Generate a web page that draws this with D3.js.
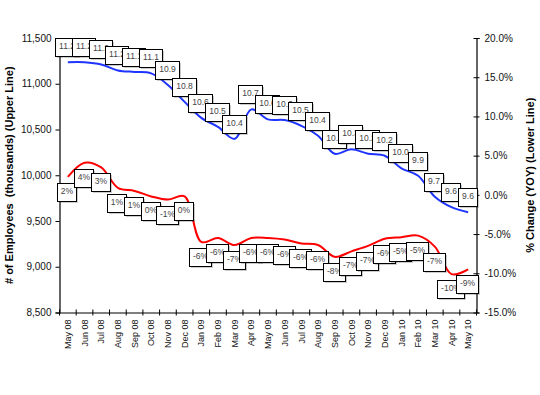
<!DOCTYPE html>
<html>
<head>
<meta charset="utf-8">
<script src="https://cdn.jsdelivr.net/npm/d3@7"></script>
<style>
    body { margin: 0; background: #fff; }
    text { font-family: Arial, "Liberation Sans", sans-serif; }
</style>
</head>
<body>
<svg id="canvas"></svg>
<script>
const months = ["May 08", "Jun 08", "Jul 08", "Aug 08", "Sep 08", "Oct 08", "Nov 08", "Dec 08",
    "Jan 09", "Feb 09", "Mar 09", "Apr 09", "May 09", "Jun 09", "Jul 09", "Aug 09", "Sep 09",
    "Oct 09", "Nov 09", "Dec 09", "Jan 10", "Feb 10", "Mar 10", "Apr 10", "May 10"];

// employees, thousands (upper line)
const employees = [11235, 11235, 11211, 11145, 11129, 11113, 10987, 10802, 10627, 10529, 10398, 10720,
    10611, 10603, 10540, 10431, 10235, 10284, 10235, 10213, 10076, 9994, 9765, 9651, 9596];
const employeeLabels = ["11.2", "11.2", "11.2", "11.2", "11.1", "11.1", "10.9", "10.8", "10.6", "10.5",
    "10.4", "10.7", "10.6", "10.6", "10.5", "10.4", "10.3", "10.3", "10.2", "10.2", "10.0", "9.9", "9.7", "9.6", "9.6"];

// year over year change, % (lower line)
const yoy = [2.3, 4.1, 3.5, 0.9, 0.5, -0.2, -0.6, -0.2, -6.0, -5.5, -6.4, -5.5, -5.5, -5.7, -6.2, -6.4,
    -7.9, -7.2, -6.5, -5.6, -5.4, -5.2, -6.6, -10.1, -9.5];
const yoyLabels = ["2%", "4%", "3%", "1%", "1%", "0%", "-1%", "0%", "-6%", "-6%", "-7%", "-6%", "-6%",
    "-6%", "-6%", "-6%", "-8%", "-7%", "-7%", "-6%", "-5%", "-5%", "-7%", "-10%", "-9%"];

const leftTicks = d3.range(8500, 11501, 500);
const rightTicks = d3.range(-15, 21, 5);

const width = 540;
const height = 395;
const plot = { left: 59.5, right: 476.5, top: 38, bottom: 312.5 };

const svg = d3.select("#canvas")
    .attr("width", width)
    .attr("height", height);

const x = d3.scaleBand()
    .domain(months)
    .range([plot.left, plot.right]);
const cx = m => x(m) + x.bandwidth() / 2;

const yLeft = d3.scaleLinear().domain([8500, 11500]).range([plot.bottom, plot.top]);
const yRight = d3.scaleLinear().domain([-15, 20]).range([plot.bottom, plot.top]);

const pctFormat = v => (v < 0 ? "-" : "") + Math.abs(v).toFixed(1) + "%";

// axes
const leftAxis = svg.append("g")
    .attr("transform", `translate(${plot.left},0)`)
    .call(d3.axisLeft(yLeft).tickValues(leftTicks).tickFormat(d3.format(",")).tickSize(4).tickPadding(4));

const rightAxis = svg.append("g")
    .attr("transform", `translate(${plot.right},0)`)
    .call(d3.axisRight(yRight).tickValues(rightTicks).tickFormat(pctFormat).tickSize(3).tickPadding(5));
rightAxis.selectAll(".tick line").attr("x1", -3);

const bottomAxis = svg.append("g")
    .attr("transform", `translate(0,${plot.bottom})`)
    .call(d3.axisBottom(x).tickSize(0).tickPadding(0));

bottomAxis.selectAll(".tick text")
    .attr("transform", "rotate(-90)")
    .attr("text-anchor", "end")
    .attr("x", -7)
    .attr("y", 0)
    .attr("dy", "0.35em")
    .style("font-size", "9px");

// tick marks between the categories
bottomAxis.selectAll(".cat-tick")
    .data(months.map(m => x(m)).concat([x.range()[1]]))
    .enter()
    .append("line")
    .attr("class", "cat-tick")
    .attr("x1", d => d)
    .attr("x2", d => d)
    .attr("y1", -3)
    .attr("y2", 3)
    .attr("stroke", "#000");

[leftAxis, rightAxis, bottomAxis].forEach(a => {
    a.select(".domain").attr("stroke", "#000").attr("stroke-width", 1.2);
    a.selectAll(".tick line").attr("stroke", "#000");
    a.selectAll(".tick text").attr("fill", "#111");
});
leftAxis.selectAll(".tick text").style("font-size", "10px");
rightAxis.selectAll(".tick text").style("font-size", "10px");

// axis titles
svg.append("text")
    .attr("transform", `translate(9,${(plot.top + plot.bottom) / 2}) rotate(-90)`)
    .attr("text-anchor", "middle")
    .attr("dy", "0.35em")
    .style("font-size", "11px")
    .style("font-weight", "bold")
    .style("white-space", "pre")
    .text("# of Employees  (thousands) (Upper Line)");

svg.append("text")
    .attr("transform", `translate(530,${(plot.top + plot.bottom) / 2}) rotate(-90)`)
    .attr("text-anchor", "middle")
    .attr("dy", "0.35em")
    .style("font-size", "11px")
    .style("font-weight", "bold")
    .text("% Change (YOY) (Lower Line)");

// lines
const curve = d3.curveCatmullRom.alpha(0.5);

svg.append("path")
    .datum(employees)
    .attr("fill", "none")
    .attr("stroke", "#1f35ff")
    .attr("stroke-width", 2)
    .attr("d", d3.line().x((d, i) => cx(months[i])).y(d => yLeft(d)).curve(curve));

svg.append("path")
    .datum(yoy)
    .attr("fill", "none")
    .attr("stroke", "#ff0000")
    .attr("stroke-width", 2)
    .attr("d", d3.line().x((d, i) => cx(months[i])).y(d => yRight(d)).curve(curve));

// data labels, boxed with a little shadow
const drawLabels = (values, labels, scale, above) => {
    values.forEach((v, i) => {
        const px = cx(months[i]) - 1;
        const py = scale(v);
        const g = svg.append("g");
        const shadow = g.append("rect").attr("fill", "#000").attr("opacity", 0.2);
        const box = g.append("rect").attr("fill", "#fff").attr("stroke", "#000").attr("stroke-width", 1);
        const t = g.append("text")
            .attr("text-anchor", "middle")
            .style("font-size", "8.5px")
            .attr("fill", "#444")
            .text(labels[i]);
        const w = Math.round(t.node().getComputedTextLength() + 7);
        const h = 18;
        const top = above ? Math.round(py - 6 - h) : Math.round(py + 6);
        const left = Math.round(px - w / 2);
        box.attr("x", left + 0.5).attr("y", top + 0.5).attr("width", w).attr("height", h);
        shadow.attr("x", left + 2).attr("y", top + 2).attr("width", w).attr("height", h);
        t.attr("x", left + 0.5 + w / 2).attr("y", top + 11);
    });
};

drawLabels(employees, employeeLabels, yLeft, true);
drawLabels(yoy, yoyLabels, yRight, false);
</script>
</body>
</html>
